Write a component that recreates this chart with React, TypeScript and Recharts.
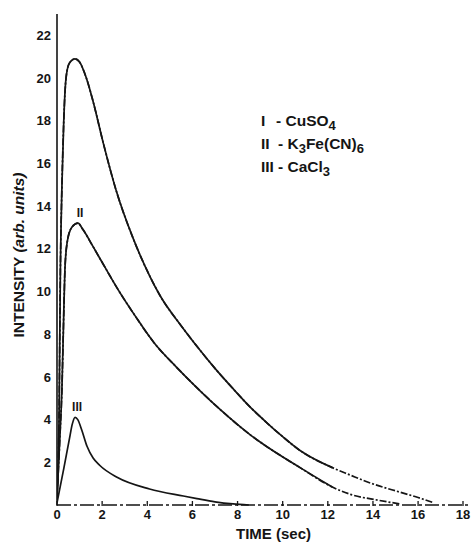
import { LineChart, Line, XAxis, YAxis, ReferenceDot } from 'recharts'

// values
const timeTicks = [0, 2, 4, 6, 8, 10, 12, 14, 16, 18]
const intensityTicks = [2, 4, 6, 8, 10, 12, 14, 16, 18, 20, 22]

// I - CuSO4
const cuso4 = [
  { t: 0, v: 0.4 },
  { t: 0.09, v: 4 },
  { t: 0.15, v: 11 },
  { t: 0.22, v: 15 },
  { t: 0.3, v: 18 },
  { t: 0.4, v: 20 },
  { t: 0.55, v: 20.7 },
  { t: 0.8, v: 20.9 },
  { t: 1.0, v: 20.75 },
  { t: 1.3, v: 20.0 },
  { t: 1.6, v: 18.9 },
  { t: 2.04, v: 17.0 },
  { t: 2.66, v: 14.6 },
  { t: 3.37, v: 12.5 },
  { t: 4.12, v: 10.7 },
  { t: 4.57, v: 9.8 },
  { t: 5.5, v: 8.4 },
  { t: 6.34, v: 7.25 },
  { t: 7.0, v: 6.4 },
  { t: 7.8, v: 5.45 },
  { t: 8.55, v: 4.6 },
  { t: 9.3, v: 3.85 },
  { t: 10.0, v: 3.2 },
  { t: 10.77, v: 2.55 },
  { t: 12.2, v: 1.75 },
  { t: 13.0, v: 1.4 },
  { t: 13.7, v: 1.1 },
  { t: 15.2, v: 0.6 },
  { t: 16.0, v: 0.35 },
  { t: 16.7, v: 0.1 },
]

// II - K3Fe(CN)6
const k3fecn6 = [
  { t: 0, v: 0.3 },
  { t: 0.12, v: 3 },
  { t: 0.22, v: 5.5 },
  { t: 0.3, v: 9 },
  { t: 0.35, v: 11 },
  { t: 0.45, v: 12.3 },
  { t: 0.65, v: 13.0 },
  { t: 0.93, v: 13.2 },
  { t: 1.15, v: 12.9 },
  { t: 1.6, v: 12.1 },
  { t: 2.2, v: 11.0 },
  { t: 2.7, v: 10.1 },
  { t: 3.5, v: 8.8 },
  { t: 4.3, v: 7.6 },
  { t: 5.3, v: 6.45 },
  { t: 6.34, v: 5.35 },
  { t: 7.2, v: 4.5 },
  { t: 8.55, v: 3.3 },
  { t: 9.0, v: 2.95 },
  { t: 10.77, v: 1.75 },
  { t: 12.2, v: 0.84 },
  { t: 13.0, v: 0.5 },
  { t: 14.2, v: 0.23 },
  { t: 15.2, v: 0.05 },
]

// III - CaCl3
const cacl3 = [
  { t: 0, v: 0.1 },
  { t: 0.3, v: 1.7 },
  { t: 0.55, v: 3.1 },
  { t: 0.68, v: 3.8 },
  { t: 0.8, v: 4.1 },
  { t: 0.92, v: 4.0 },
  { t: 1.1, v: 3.5 },
  { t: 1.33, v: 2.75 },
  { t: 1.6, v: 2.2 },
  { t: 1.9, v: 1.85 },
  { t: 2.66, v: 1.3 },
  { t: 4.1, v: 0.75 },
  { t: 5.6, v: 0.42 },
  { t: 6.2, v: 0.3 },
  { t: 7.0, v: 0.15 },
  { t: 7.8, v: 0.05 },
  { t: 8.5, v: 0 },
]

// the scanned curves turn into broken dash-dot lines past this time
const SOLID_UNTIL = 12.2

const FONT = '"Liberation Sans", Arial, sans-serif'
const INK = '#151515'

function TimeTick(props: any) {
  const { x, y, payload } = props
  return (
    <g>
      <line x1={x} x2={x} y1={y - 1} y2={y - 6} stroke={INK} strokeWidth={1.3} />
      <text x={x} y={y + 12} textAnchor="middle" fill={INK} fontSize={13} fontWeight={700} fontFamily={FONT}>
        {payload.value}
      </text>
    </g>
  )
}

function IntensityLabel() {
  return (
    <text
      x={18}
      y={255}
      transform="rotate(-90 18 255)"
      textAnchor="middle"
      dominantBaseline="central"
      fill={INK}
      fontSize={15.5}
      fontWeight={700}
      fontFamily={FONT}
    >
      INTENSITY <tspan fontStyle="italic">(arb. units)</tspan>
    </text>
  )
}

const sub = { fontSize: 13, position: 'relative', top: 4 } as const
const lineProps = { dataKey: 'v', type: 'monotone', stroke: INK, strokeWidth: 1.7, dot: false, isAnimationActive: false } as const
const solidPart = (d: { t: number; v: number }[]) => d.filter((p) => p.t <= SOLID_UNTIL)

export default function App() {
  return (
    <div style={{ position: 'absolute', left: 0, top: 0, width: 471, height: 543, background: '#fff' }}>
      <LineChart width={471} height={543} margin={{ top: 14, right: 1, bottom: 0, left: 0 }}>
        <XAxis
          type="number"
          dataKey="t"
          domain={[0, 18.3]}
          ticks={timeTicks}
          allowDataOverflow
          tickLine={false}
          tickSize={0}
          height={38}
          stroke={INK}
          strokeWidth={1.4}
          strokeDasharray="14 3 3 3"
          tick={<TimeTick />}
          label={{
            value: 'TIME (sec)',
            position: 'insideBottom',
            offset: 4,
            fill: INK,
            fontSize: 15,
            fontWeight: 700,
            fontFamily: FONT,
            dx: 10,
          }}
        />
        <YAxis
          type="number"
          domain={[0, 23]}
          ticks={intensityTicks}
          width={57}
          tickLine={false}
          tickSize={4}
          stroke={INK}
          strokeWidth={1.6}
          tick={{ fill: INK, fontSize: 13, fontWeight: 700, fontFamily: FONT }}
          label={{ content: () => <IntensityLabel /> }}
        />
        <Line data={cuso4} {...lineProps} strokeDasharray="7 2 2 2" />
        <Line data={solidPart(cuso4)} {...lineProps} />
        <Line data={k3fecn6} {...lineProps} strokeDasharray="7 2 2 2" />
        <Line data={solidPart(k3fecn6)} {...lineProps} />
        <Line data={cacl3} {...lineProps} />
        <ReferenceDot
          x={1.02}
          y={13.7}
          r={0}
          label={{ value: 'II', position: 'center', fill: INK, fontSize: 12, fontWeight: 700, fontFamily: FONT }}
        />
        <ReferenceDot
          x={0.89}
          y={4.6}
          r={0}
          label={{ value: 'III', position: 'center', fill: INK, fontSize: 12, fontWeight: 700, fontFamily: FONT }}
        />
      </LineChart>
      <div
        style={{
          position: 'absolute',
          left: 261,
          top: 110,
          fontFamily: FONT,
          fontWeight: 700,
          fontSize: 15.5,
          lineHeight: '22px',
          color: INK,
          whiteSpace: 'nowrap',
        }}
      >
        <div>
          <span style={{ display: 'inline-block', width: 15 }}>I</span>- CuSO<span style={sub}>4</span>
        </div>
        <div>
          <span style={{ display: 'inline-block', width: 17 }}>II</span>- K<span style={sub}>3</span>Fe(CN)
          <span style={sub}>6</span>
        </div>
        <div>
          <span style={{ display: 'inline-block', width: 17 }}>III</span>- CaCl<span style={sub}>3</span>
        </div>
      </div>
    </div>
  )
}
